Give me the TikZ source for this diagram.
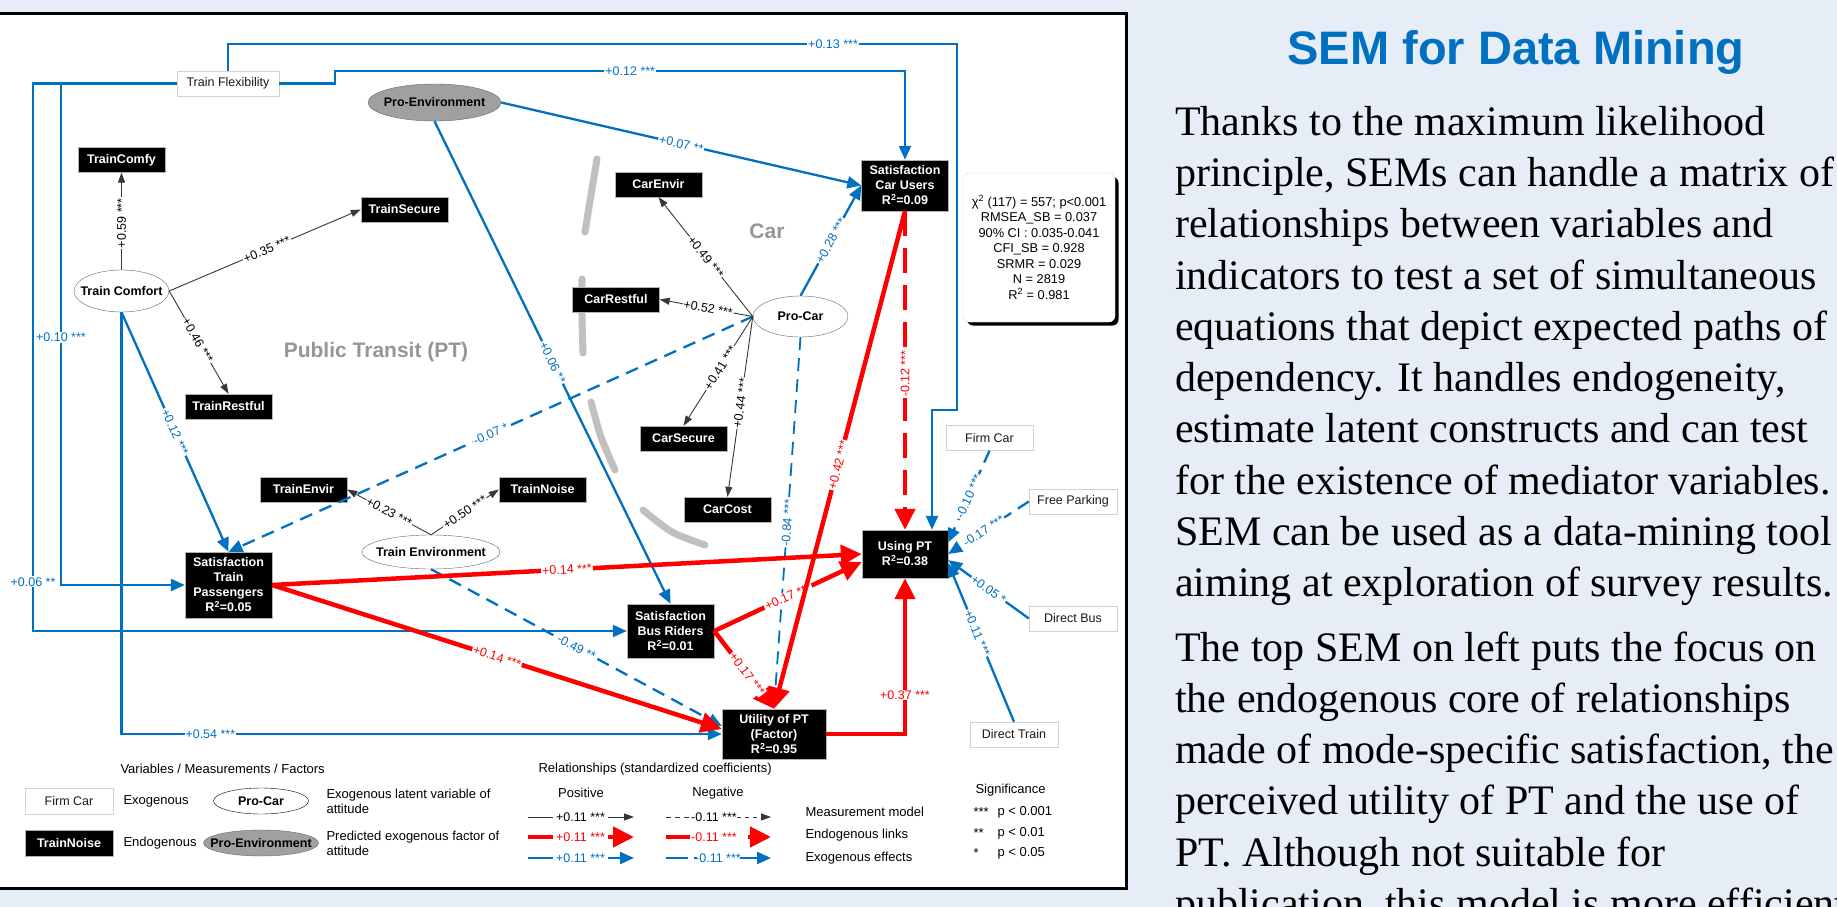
\documentclass[tikz,border=0pt]{standalone}
\usepackage{fontspec}
\setmainfont{Liberation Sans}
\newfontfamily\serifbody{Liberation Serif}
\usetikzlibrary{arrows.meta,shapes.geometric,calc}
\definecolor{bgc}{RGB}{231,237,247}
\definecolor{exoblue}{RGB}{0,112,192}
\definecolor{endored}{RGB}{255,0,0}
\definecolor{measc}{RGB}{55,55,55}
\definecolor{arcgray}{RGB}{192,192,192}
\definecolor{lblgray}{RGB}{150,150,150}
\definecolor{envgray}{RGB}{160,160,160}
\newcommand{\ztxt}[1]{\makebox[0pt]{#1}}
\begin{document}
\begin{tikzpicture}[x=1pt,y=-1pt,
  font=\fontsize{12.5}{15}\selectfont,
  endobox/.style={rectangle, fill=black, draw=gray!60, text=white, font=\bfseries\fontsize{12.5}{15}\selectfont, align=center, inner sep=0pt, minimum width=87pt, minimum height=25pt},
  exobox/.style={rectangle, fill=white, draw=gray!35, text=black!90, font=\fontsize{12.5}{15}\selectfont, inner sep=0pt, minimum width=87pt, minimum height=25pt},
  latent/.style={ellipse, draw=gray!80!black, fill=white, font=\bfseries\fontsize{12.5}{15}\selectfont, inner sep=0pt},
  meas/.style={draw=measc, line width=0.9pt, -{Triangle[length=10pt,width=7pt]}},
  exo/.style={draw=exoblue, line width=2.3pt, -{Triangle[length=14pt,width=12pt]}},
  exodash/.style={exo, dash pattern=on 13pt off 8pt},
  endo/.style={draw=endored, line width=4.5pt, -{Triangle[length=21pt,width=20pt]}},
  endodash/.style={endo, dash pattern=on 25pt off 12pt},
  lbl/.style={fill=white, inner sep=1pt, font=\fontsize{12.5}{14}\selectfont},
  mlbl/.style={lbl, text=black},
  blbl/.style={lbl, text=exoblue},
  rlbl/.style={lbl, text=endored},
  arcseg/.style={draw=arcgray, line width=7pt, line cap=round}
]
\useasboundingbox (0,0) rectangle (1837,907);
\fill[bgc] (0,0) rectangle (1837,907);
\filldraw[fill=white, draw=black, line width=3pt] (-5,13.5) rectangle (1126,888);

% gray separator arc
\draw[arcseg] plot[smooth] coordinates {(597,159) (591,195) (585,232)};
\draw[arcseg] plot[smooth] coordinates {(582,279) (582,316) (583,353)};
\draw[arcseg] plot[smooth] coordinates {(591,402) (601,437) (615,470)};
\draw[arcseg] plot[smooth] coordinates {(643,510) (672,532) (705,545)};

% region labels
\node[font=\bfseries\fontsize{21}{24}\selectfont, text=lblgray] (ptlabel) at (376,352) {Public Transit (PT)};
\node[font=\bfseries\fontsize{21}{24}\selectfont, text=lblgray] (carlabel) at (767,231) {Car};

% nodes
\node[exobox, minimum width=102pt] (tf) at (228,83.5) {Train Flexibility};
\node[latent, fill=envgray, minimum width=133pt, minimum height=37pt] (penv) at (434.5,102.5) {\ztxt{Pro-Environment}};
\node[endobox] (comfy) at (121.5,160) {TrainComfy};
\node[endobox] (secure) at (404.5,209.5) {TrainSecure};
\node[latent, minimum width=95pt, minimum height=42pt] (tc) at (121.5,291) {\ztxt{Train Comfort}};
\node[endobox] (restful) at (228.5,406.5) {TrainRestful};
\node[endobox] (tenvir) at (303.5,489.5) {TrainEnvir};
\node[endobox] (tnoise) at (542.5,489.5) {TrainNoise};
\node[latent, minimum width=138pt, minimum height=34pt] (te) at (431,552) {\ztxt{Train Environment}};
\node[endobox, minimum height=66pt] (stp) at (228.5,585) {Satisfaction\\Train\\Passengers\\R\textsuperscript{2}=0.05};
\node[endobox, minimum height=54pt] (sbr) at (670.5,631) {Satisfaction\\Bus Riders\\R\textsuperscript{2}=0.01};
\node[endobox, minimum width=86pt, minimum height=48pt] (up) at (905,554) {Using PT\\R\textsuperscript{2}=0.38};
\node[endobox, minimum width=104pt, minimum height=50pt] (util) at (774,734) {Utility of PT\\(Factor)\\R\textsuperscript{2}=0.95};
\node[endobox, minimum height=51pt] (scu) at (905,185.5) {Satisfaction\\Car Users\\R\textsuperscript{2}=0.09};
\node[latent, minimum width=95pt, minimum height=41pt] (pcar) at (800.5,316.5) {\ztxt{Pro-Car}};
\node[endobox] (cenvir) at (658.5,184.5) {CarEnvir};
\node[endobox] (crest) at (616,299.5) {CarRestful};
\node[endobox] (csec) at (683.5,438.5) {CarSecure};
\node[endobox] (ccost) at (727.5,509.5) {CarCost};
\node[exobox] (firm) at (989.5,438) {Firm Car};
\node[exobox, minimum width=88pt] (park) at (1073,501.5) {Free Parking};
\node[exobox, minimum width=88pt] (dbus) at (1073,618.5) {Direct Bus};
\node[exobox, minimum width=88pt] (dtrain) at (1014,734.5) {Direct Train};

% fit statistics box
\fill[black, rounded corners=6pt] (967,177) rectangle (1118.5,325.5);
\node[rectangle, draw=gray!30, fill=white, rounded corners=6pt, minimum width=152pt, minimum height=149pt, inner sep=0pt, align=center, font=\fontsize{12.8}{15.5}\selectfont] (stats) at (1039,247.5)
  {χ\textsuperscript{2} (117) = 557; p<0.001\\RMSEA\_SB = 0.037\\90\% CI : 0.035-0.041\\CFI\_SB = 0.928\\SRMR = 0.029\\N = 2819\\R\textsuperscript{2} = 0.981};

% corner coordinates for routed connectors
\coordinate (k13a) at (957,44);
\coordinate (k13b) at (957,410);
\coordinate (k13c) at (932,410);
\coordinate (k12a) at (335,83.5);
\coordinate (k12b) at (335,71);
\coordinate (k33) at (33,83.5);
\coordinate (k61) at (61,83.5);

% exogenous effects (blue)
\draw[exo] (tf.north) |- node[blbl,pos=0.915]{+0.13 ***} (k13a) -- (k13b) -- (k13c) -- (up.north -| k13c);
\draw[exo] (tf.east) -- (k12a) -- (k12b) -| node[blbl,pos=0.259]{+0.12 ***} (scu.north);
\draw[exo] (tf.west) -- (k33) |- node[blbl,pos=0.455]{+0.06 **} (sbr.west);
\draw[exo] (k61) |- node[blbl,pos=0.253]{+0.10 ***} (stp.west);
\draw[exo] (tc.south) |- node[blbl,pos=0.574]{+0.54 ***} (util.west);
\draw[exo] (tc.south) -- node[blbl,sloped,pos=0.5]{+0.12 ***} (stp.north);
\draw[exo] (penv.south) -- node[blbl,sloped,pos=0.5]{+0.06 **} (sbr.north);
\draw[exo] (penv.east) -- node[blbl,sloped,pos=0.5]{+0.07 **} (scu.west);
\draw[exo] (pcar.north) -- node[blbl,sloped,pos=0.5]{+0.28 ***} (scu.west);
\draw[exodash] (pcar.west) -- node[blbl,sloped,pos=0.5]{-0.07 *} (stp.north);
\draw[exodash, line width=1.8pt] (pcar.south) -- node[blbl,sloped,pos=0.5]{-0.84 ***} (util.north);
\draw[exodash] (te.south) -- node[blbl,sloped,pos=0.5]{-0.49 **} ($(util.west)+(0,-8)$);
\draw[exodash] (firm.south) -- node[blbl,sloped,pos=0.5]{-0.10 ***} (up.15);
\draw[exodash] (park.west) -- node[blbl,sloped,pos=0.56]{-0.17 ***} (up.east);
\draw[exo] (dbus.west) -- node[blbl,sloped,pos=0.5]{+0.05 *} (up.-8);
\draw[exo] (dtrain.north) -- node[blbl,sloped,pos=0.56]{+0.11 ***} (up.-12);

% measurement model (black)
\draw[meas] (tc.north) -- node[mlbl,sloped,pos=0.48]{+0.59 ***} (comfy.south);
\draw[meas] (tc.east) -- node[mlbl,sloped,pos=0.51]{+0.35 ***} (secure.west);
\draw[meas] (tc.east) -- node[mlbl,sloped,pos=0.48]{+0.46 ***} (restful.north);
\draw[meas] (te.north) -- node[mlbl,sloped,pos=0.5]{+0.23 ***} (tenvir.east);
\draw[meas] (te.north) -- node[mlbl,sloped,pos=0.5]{+0.50 ***} (tnoise.west);
\draw[meas] (pcar.west) -- node[mlbl,sloped,pos=0.5]{+0.49 ***} (cenvir.south);
\draw[meas] (pcar.west) -- node[mlbl,sloped,pos=0.48]{+0.52 ***} (crest.east);
\draw[meas] (pcar.west) -- node[mlbl,sloped,pos=0.47]{+0.41 ***} (csec.north);
\draw[meas] (pcar.west) -- node[mlbl,sloped,pos=0.48]{+0.44 ***} (ccost.north);

% endogenous links (red)
\draw[endo] (stp.east) -- node[rlbl,sloped,pos=0.5]{+0.14 ***} (up.west);
\draw[endo] (stp.east) -- node[rlbl,sloped,pos=0.5]{+0.14 ***} ($(util.west)+(0,-5)$);
\draw[endo] (sbr.east) -- node[rlbl,sloped,pos=0.5]{+0.17 ***} ($(up.west)+(0,8)$);
\draw[endo] (sbr.east) -- node[rlbl,sloped,pos=0.55]{+0.17 ***} (util.north);
\draw[endo] (scu.south) -- node[rlbl,sloped,pos=0.51]{+0.42 ***} (util.north);
\draw[endodash] (scu.south) -- node[rlbl,rotate=90,pos=0.51]{-0.12 ***} (up.north);
\draw[endo] (util.east) -| node[rlbl,pos=0.625]{+0.37 ***} (up.south);

% legend
\begin{scope}[font=\fontsize{13}{15}\selectfont]
\node[anchor=west] (lgvar) at (117,769) {Variables / Measurements / Factors};
\node[exobox, minimum width=87.5pt, minimum height=26pt] (lgfirm) at (69,801) {Firm Car};
\node[anchor=west] (lgexo) at (120,801) {Exogenous};
\node[latent, draw=black, minimum width=95pt, minimum height=26pt] (lgpcar) at (261,801) {\ztxt{Pro-Car}};
\node[anchor=west, align=left] (lgexotxt) at (323,801) {Exogenous latent variable of\\attitude};
\node[endobox, minimum width=87.5pt, minimum height=26pt] (lgnoise) at (69,843.5) {TrainNoise};
\node[anchor=west] (lgendo) at (120,843.5) {Endogenous};
\node[latent, fill=envgray, draw=gray!80!black, minimum width=115pt, minimum height=26pt] (lgpenv) at (261,843) {\ztxt{Pro-Environment}};
\node[anchor=west, align=left] (lgpredtxt) at (323,843) {Predicted exogenous factor of\\attitude};

\node[anchor=west] (lgrel) at (535,769) {Relationships (standardized coefficients)};
\node (lgpos) at (581,793) {Positive};
\node (lgneg) at (718,793) {Negative};

\draw[measc, line width=0.9pt] (528,817) -- (553,817);
\node[inner sep=0pt, font=\fontsize{12.5}{14}\selectfont] (lgm1) at (580.5,817) {+0.11 ***};
\draw[meas] (608,817) -- (634,817);
\draw[measc, line width=0.9pt, dash pattern=on 5pt off 4pt] (666,817) -- (692,817);
\node[inner sep=0pt, font=\fontsize{12.5}{14}\selectfont] (lgm2) at (714,817) {-0.11 ***};
\draw[meas, dash pattern=on 4pt off 4pt] (737,817) -- (771,817);
\node[anchor=west] (lgmm) at (802,812) {Measurement model};

\draw[endored, line width=4.5pt] (528,837) -- (553,837);
\node[inner sep=0pt, text=endored, font=\fontsize{12.5}{14}\selectfont] (lge1) at (580.5,837) {+0.11 ***};
\draw[endo] (608,837) -- (634,837);
\draw[endored, line width=4.5pt] (666,837) -- (690,837);
\node[inner sep=0pt, text=endored, font=\fontsize{12.5}{14}\selectfont] (lge2) at (714,837) {-0.11 ***};
\draw[endo] (748,837) -- (771,837);
\node[anchor=west] (lgel) at (802,835) {Endogenous links};

\draw[exoblue, line width=2.3pt] (528,858) -- (553,858);
\node[inner sep=0pt, text=exoblue, font=\fontsize{12.5}{14}\selectfont] (lgx1) at (580.5,858) {+0.11 ***};
\draw[exo] (608,858) -- (634,858);
\draw[exoblue, line width=2.3pt] (666,858) -- (688,858);
\draw[exoblue, line width=2.3pt] (694,858) -- (697,858);
\node[inner sep=0pt, text=exoblue, font=\fontsize{12.5}{14}\selectfont] (lgx2) at (718,858) {-0.11 ***};
\draw[exo] (740,858) -- (771,858);
\node[anchor=west] (lgee) at (802,858) {Exogenous effects};

\node[anchor=west] (lgsig) at (972,790) {Significance};
\node[anchor=west] (lgs1) at (970,812) {***};
\node[anchor=west] (lgp1) at (994,812) {p < 0.001};
\node[anchor=west] (lgs2) at (970,833) {**};
\node[anchor=west] (lgp2) at (994,833) {p < 0.01};
\node[anchor=west] (lgs3) at (970,853) {*};
\node[anchor=west] (lgp3) at (994,853) {p < 0.05};
\end{scope}

% right text panel
\begin{scope}
\clip (1128,0) rectangle (1837,907);
\node[anchor=base, inner sep=0pt, font=\bfseries\fontsize{47}{52}\selectfont, text=exoblue] (title) at (1516,65) {SEM for Data Mining};
\begin{scope}[every node/.style={anchor=base west, inner sep=0pt, font=\serifbody\fontsize{42}{50}\selectfont}]
\node (t1) at (1175,135) {Thanks to the maximum likelihood};
\node (t2) at (1175,186) {principle, SEMs can handle a matrix of};
\node (t3) at (1175,237) {relationships between variables and};
\node (t4) at (1175,289) {indicators to test a set of simultaneous};
\node (t5) at (1175,340) {equations that depict expected paths of};
\node (t6) at (1175,391) {dependency. It handles endogeneity,};
\node (t7) at (1175,442) {estimate latent constructs and can test};
\node (t8) at (1175,494) {for the existence of mediator variables.};
\node (t9) at (1175,545) {SEM can be used as a data-mining tool};
\node (t10) at (1175,596) {aiming at exploration of survey results.};
\node (t11) at (1175,661) {The top SEM on left puts the focus on};
\node (t12) at (1175,712) {the endogenous core of relationships};
\node (t13) at (1175,763) {made of mode-specific satisfaction, the};
\node (t14) at (1175,814) {perceived utility of PT and the use of};
\node (t15) at (1175,866) {PT. Although not suitable for};
\node (t16) at (1175,917) {publication, this model is more efficient};
\end{scope}
\end{scope}
\end{tikzpicture}
\end{document}
